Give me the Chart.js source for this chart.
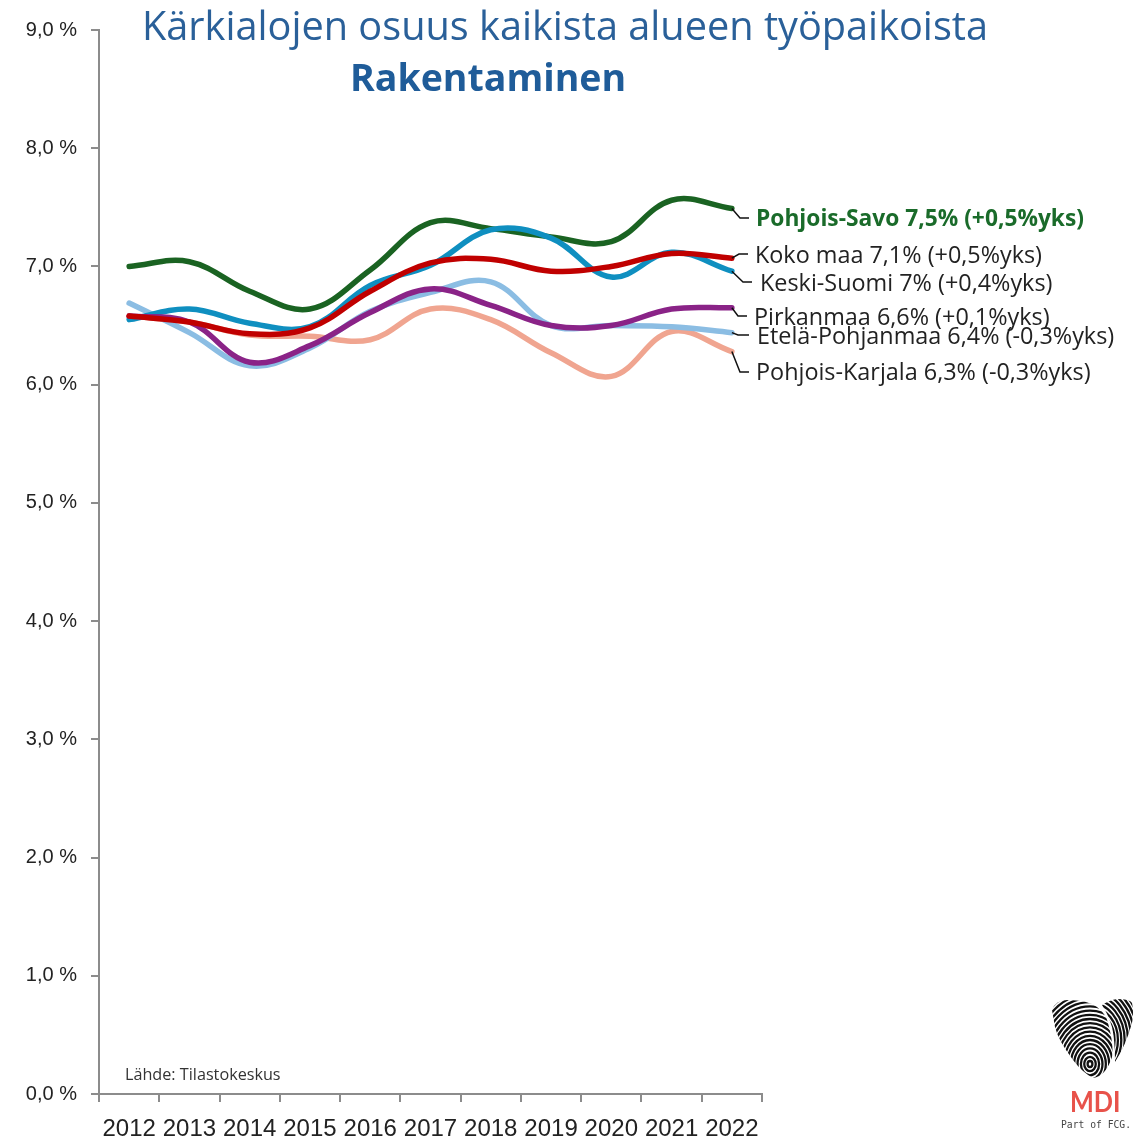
<!DOCTYPE html>
<html lang="fi">
<head>
<meta charset="utf-8">
<title>Rakentaminen</title>
<script src="https://cdn.jsdelivr.net/npm/chart.js@4"></script>
<style>
    html, body { margin: 0; padding: 0; background: #fff; }
    #wrap { position: relative; width: 1140px; height: 1138px; overflow: hidden; }
    canvas { position: absolute; left: 0; top: 0; }
    .txt { position: absolute; white-space: nowrap; line-height: 1; font-family: "Open Sans", sans-serif; }
    #title { left: 142px; top: 6px; font-size: 39.7px; color: #2a6099; }
    #subtitle { left: 350px; top: 58px; font-size: 37.5px; font-weight: 700; color: #1f5c99; }
    #source { left: 125px; top: 1066px; font-size: 16.2px; color: #333; }
    #mdi { left: 1070px; top: 1086px; font-size: 29px; color: #e8524a; font-family: Lato, sans-serif; font-weight: 700; transform: scaleX(0.87); transform-origin: left top; }
    #fcg { left: 1061px; top: 1120px; font-size: 9.7px; color: #444; font-family: "DejaVu Sans Mono", monospace; }
    #logo { position: absolute; left: 1040px; top: 990px; }
</style>
</head>
<body>
<div id="wrap">
    <canvas id="lineChart" width="1140" height="1138"></canvas>
    <div class="txt" id="title">Kärkialojen osuus kaikista alueen työpaikoista</div>
    <div class="txt" id="subtitle">Rakentaminen</div>
    <div class="txt" id="source">Lähde: Tilastokeskus</div>
    <svg id="logo" width="100" height="100" viewBox="1040 990 100 100"></svg>
    <div class="txt" id="mdi">MDI</div>
    <div class="txt" id="fcg">Part of FCG.</div>
</div>
<script>
// Data
const years = ['2012','2013','2014','2015','2016','2017','2018','2019','2020','2021','2022'];
const yTickLabels = ['0,0 %','1,0 %','2,0 %','3,0 %','4,0 %','5,0 %','6,0 %','7,0 %','8,0 %','9,0 %'];

const kokoMaa        = [6.58, 6.53, 6.43, 6.48, 6.79, 7.03, 7.06, 6.96, 7.00, 7.11, 7.07];
const pirkanmaa      = [6.58, 6.53, 6.19, 6.33, 6.61, 6.81, 6.67, 6.50, 6.50, 6.64, 6.65];
const keskiSuomi     = [6.55, 6.64, 6.52, 6.49, 6.84, 7.01, 7.31, 7.24, 6.91, 7.12, 6.96];
const pohjoisSavo    = [7.00, 7.04, 6.79, 6.64, 6.97, 7.37, 7.32, 7.25, 7.21, 7.56, 7.49];
const etelaPohjanmaa = [6.69, 6.44, 6.16, 6.31, 6.62, 6.78, 6.87, 6.50, 6.50, 6.49, 6.44];
const pohjoisKarjala = [6.58, 6.53, 6.42, 6.41, 6.38, 6.64, 6.55, 6.27, 6.07, 6.45, 6.28];

const endLabels = [
    'Koko maa 7,1% (+0,5%yks)',
    'Pirkanmaa 6,6% (+0,1%yks)',
    'Keski-Suomi 7% (+0,4%yks)',
    'Pohjois-Savo 7,5% (+0,5%yks)',
    'Etelä-Pohjanmaa 6,4% (-0,3%yks)',
    'Pohjois-Karjala 6,3% (-0,3%yks)'
];

// First dataset ends up on top in Chart.js
const lineColors = ['#c00000', '#8a2387', '#0f8fc0', '#1a6322', '#8bbde3', '#f0a590'];
const seriesValues = [kokoMaa, pirkanmaa, keskiSuomi, pohjoisSavo, etelaPohjanmaa, pohjoisKarjala];

// Leader line elbow + end, and where the label text sits (canvas pixels)
const labelLayout = [
    { elbowX: 739, lineY: 254, endX: 748, textX: 755, textY: 256, width: 287 },
    { elbowX: 738, lineY: 316, endX: 747, textX: 754, textY: 318, width: 296 },
    { elbowX: 743, lineY: 282, endX: 752, textX: 760, textY: 284, width: 294 },
    { elbowX: 740, lineY: 218, endX: 749, textX: 756, textY: 220, width: 328, bold: true, color: '#1a6b2a' },
    { elbowX: 738, lineY: 335, endX: 749, textX: 757, textY: 337, width: 358 },
    { elbowX: 740, lineY: 372, endX: 749, textX: 756, textY: 373, width: 336 }
];

const axisColor = '#8c8c8c';

// Draws the leader lines and labels at the right end of each series
const endLabelPlugin = {
    id: 'endLabels',
    afterDatasetsDraw(chart) {
        const ctx = chart.ctx;
        const x = chart.scales.x;
        const y = chart.scales.y;
        ctx.save();
        seriesValues.forEach((values, i) => {
            const last = values.length - 1;
            const px = x.getPixelForValue(last);
            const py = y.getPixelForValue(values[last]);
            const l = labelLayout[i];

            ctx.beginPath();
            ctx.moveTo(px, py);
            ctx.lineTo(l.elbowX, l.lineY);
            ctx.lineTo(l.endX, l.lineY);
            ctx.strokeStyle = '#111';
            ctx.lineWidth = 1.5;
            ctx.stroke();

            ctx.font = (l.bold ? '700 22.8px' : '23.4px') + ' "Open Sans", sans-serif';
            ctx.fillStyle = l.color || '#222';
            ctx.textAlign = 'left';
            ctx.textBaseline = 'middle';
            ctx.fillText(endLabels[i], l.textX, l.textY, l.width);
        });
        ctx.restore();
    }
};

const datasets = seriesValues.map((values, i) => ({
    label: endLabels[i],
    data: values,
    borderColor: lineColors[i],
    borderWidth: 5.5,
    borderCapStyle: 'round',
    pointRadius: 0,
    tension: 0.38,
    fill: false
}));

new Chart(document.getElementById('lineChart').getContext('2d'), {
    type: 'line',
    data: { labels: years, datasets: datasets },
    plugins: [endLabelPlugin],
    options: {
        responsive: false,
        animation: false,
        layout: { padding: { top: 30, right: 378, left: 0, bottom: 0 } },
        plugins: { legend: { display: false }, title: { display: false }, tooltip: { enabled: false } },
        scales: {
            x: {
                offset: true,
                afterFit: (scale) => { scale.height = 44; },
                border: { color: axisColor, width: 2 },
                grid: { drawOnChartArea: false, offset: true, color: axisColor, tickLength: 8, lineWidth: 2 },
                ticks: { color: '#222', font: { family: '"Liberation Sans"', size: 24 }, padding: 13, maxRotation: 0, autoSkip: false }
            },
            y: {
                min: 0,
                max: 9,
                afterFit: (scale) => { scale.width = 99; },
                border: { color: axisColor, width: 2 },
                grid: { drawOnChartArea: false, color: axisColor, tickLength: 8, lineWidth: 2 },
                ticks: {
                    stepSize: 1,
                    color: '#222',
                    font: { family: '"Liberation Sans"', size: 20 },
                    padding: 14,
                    callback: (value) => yTickLabels[value]
                }
            }
        }
    }
});

// MDI logo, a rough fingerprint heart
const svg = document.getElementById('logo');
const ns = 'http://www.w3.org/2000/svg';
function addLobe(id, path, cx, cy) {
    const clip = document.createElementNS(ns, 'clipPath');
    clip.setAttribute('id', id);
    const shape = document.createElementNS(ns, 'path');
    shape.setAttribute('d', path);
    clip.appendChild(shape);
    svg.appendChild(clip);
    const group = document.createElementNS(ns, 'g');
    group.setAttribute('clip-path', 'url(#' + id + ')');
    for (let r = 3; r < 90; r += 4.2) {
        const c = document.createElementNS(ns, 'ellipse');
        c.setAttribute('cx', cx);
        c.setAttribute('cy', cy);
        c.setAttribute('rx', r * 0.8);
        c.setAttribute('ry', r);
        c.setAttribute('fill', 'none');
        c.setAttribute('stroke', '#111');
        c.setAttribute('stroke-width', 2.3);
        group.appendChild(c);
    }
    svg.appendChild(group);
}
addLobe('lobeA', 'M1052 1010 Q1056 1000 1067 1000 Q1088 1000 1097 1007 Q1106 1014 1108 1023 Q1114 1045 1112 1057 Q1106 1076 1093 1078 Q1082 1072 1073 1060 Q1058 1040 1055 1027 Z', 1090, 1064);
addLobe('lobeB', 'M1102 1005 Q1110 1000 1117 999 Q1130 999 1132 1003 Q1134 1012 1132 1023 Q1126 1045 1115 1062 Q1115 1040 1112 1027 Q1108 1014 1102 1005 Z', 1092, 1040);
</script>
</body>
</html>
